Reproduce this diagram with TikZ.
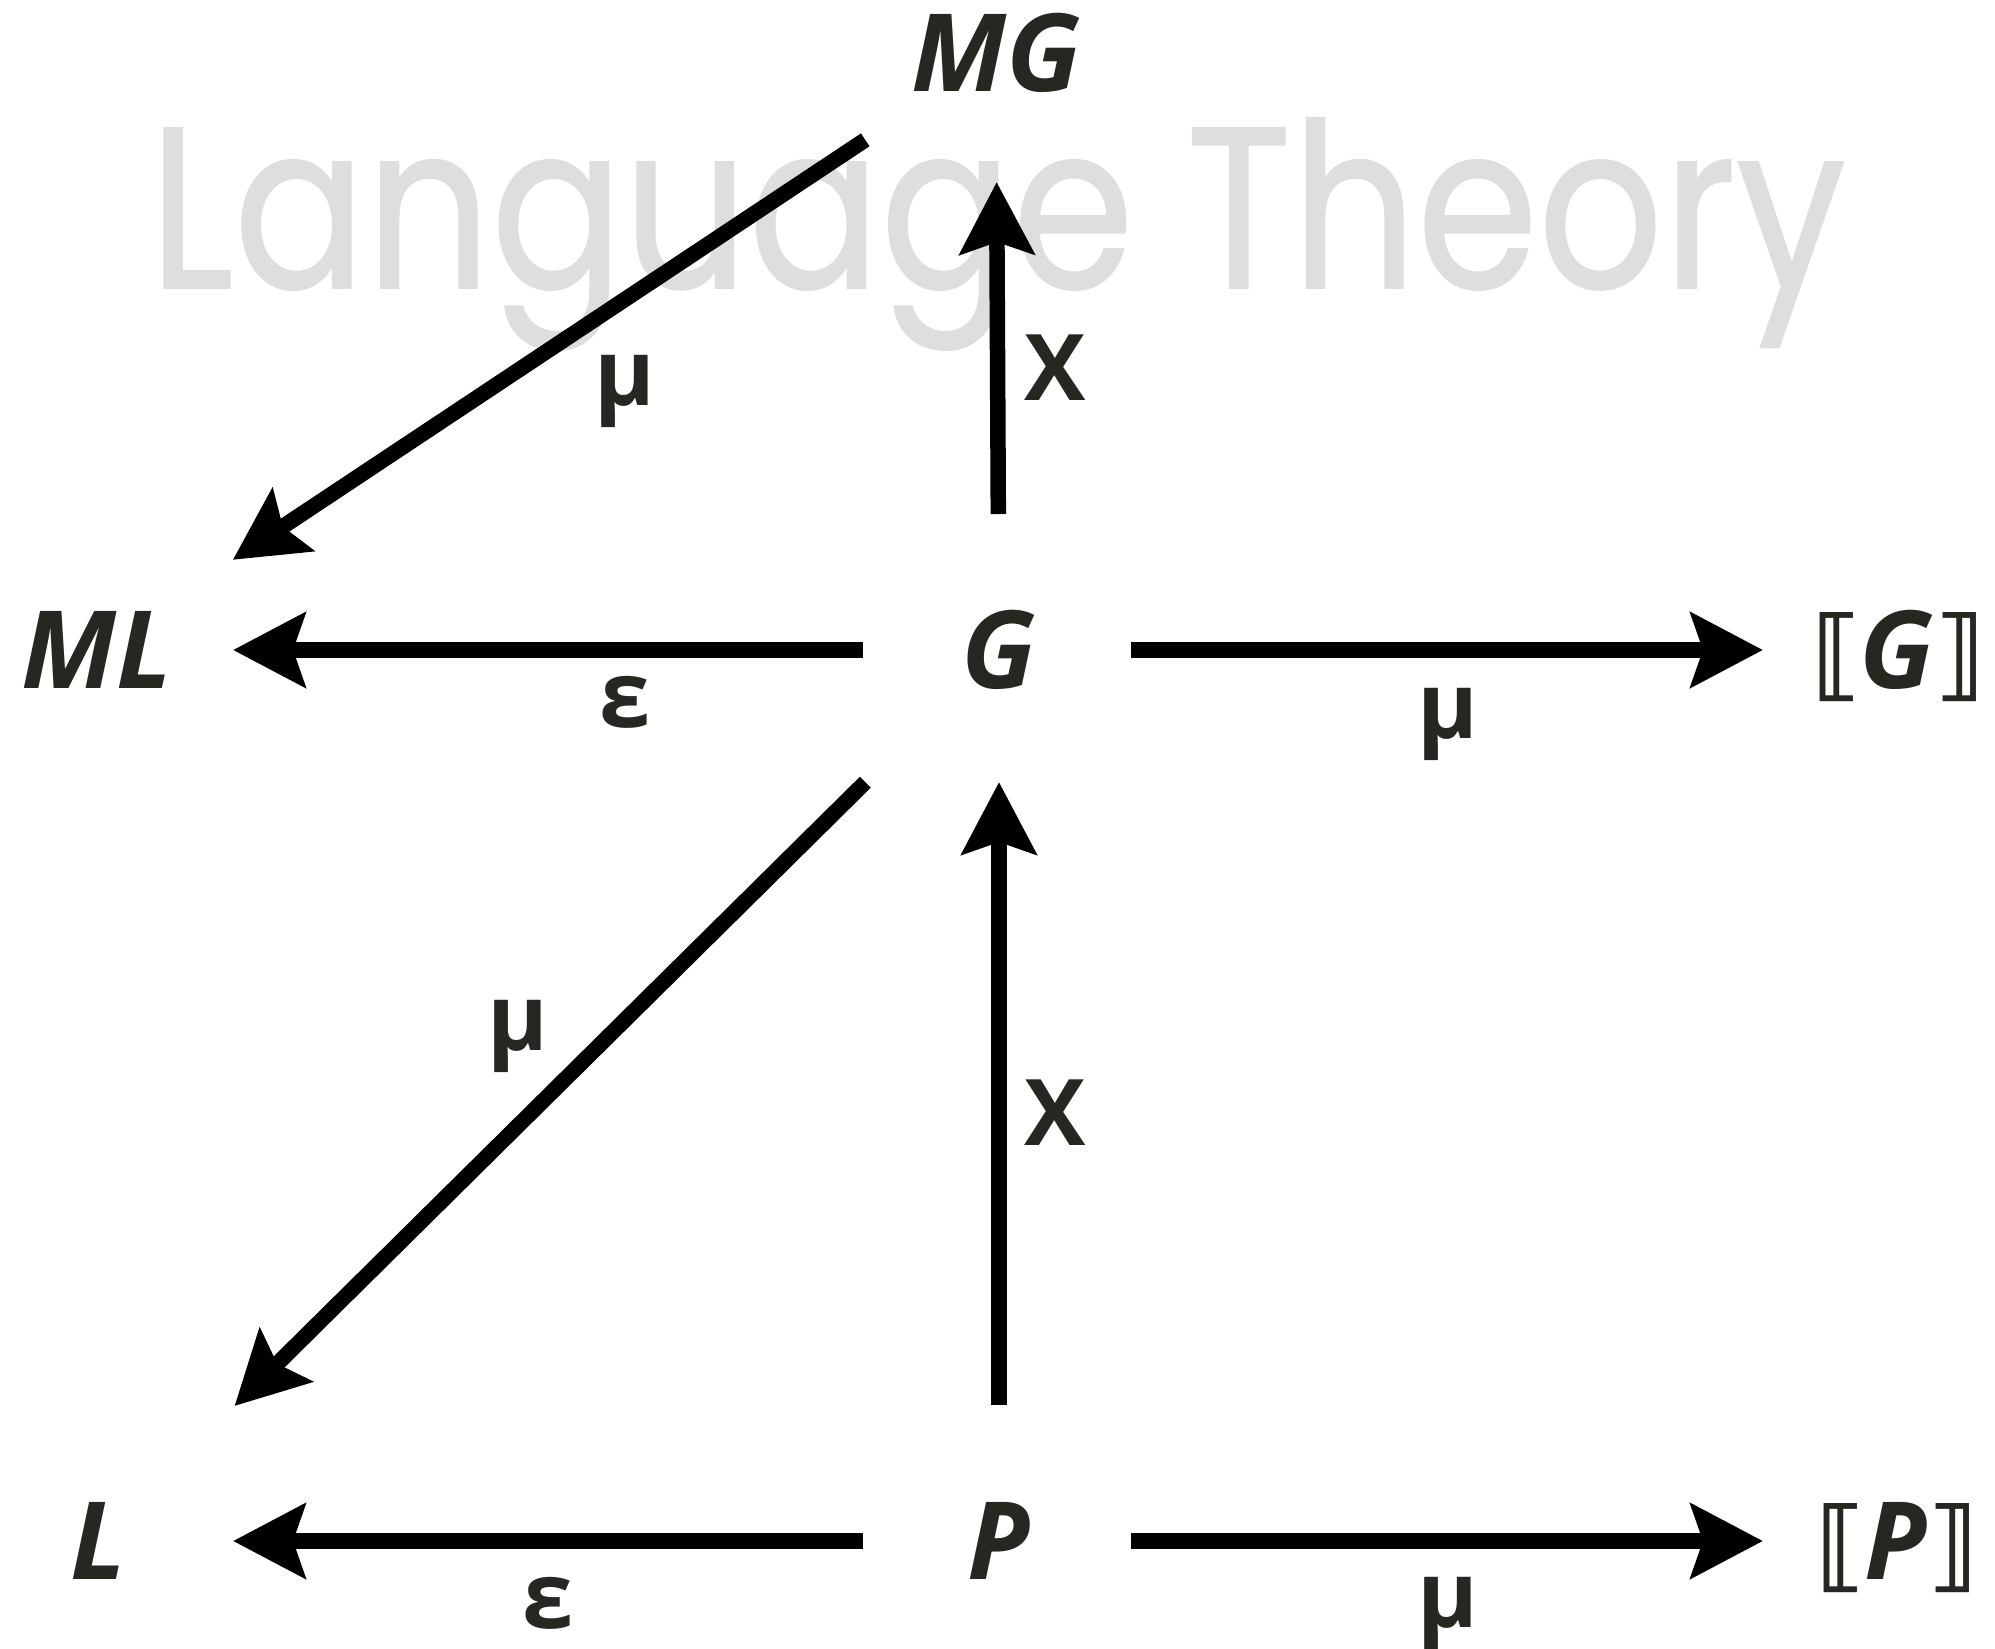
\documentclass[tikz,border=0pt]{standalone}
\usepackage{fontspec}
\usetikzlibrary{arrows.meta}
\newfontfamily\labfont{Open Sans}
\newfontfamily\wmfont{Poppins}[FakeBold=0.8]
\newfontfamily\brfont{DejaVu Sans}
\definecolor{ink}{HTML}{272722}
\definecolor{wm}{HTML}{DDDEE0}
\tikzset{
  obj/.style={inner sep=0pt, text=ink, font=\labfont\fontsize{108}{110}\selectfont\bfseries\itshape, text height=77pt, text depth=0pt},
  lbl/.style={inner sep=0pt, anchor=base, text=ink, font=\labfont\fontsize{92}{94}\selectfont\bfseries},
  arr/.style={line width=15.5pt, black, -{Stealth[length=72pt,width=74pt,inset=12pt]}},
}
\newcommand{\lbr}{{\brfont\fontsize{100}{100}\selectfont\upshape\bfseries ⟦}}
\newcommand{\rbr}{{\brfont\fontsize{100}{100}\selectfont\upshape\bfseries ⟧}}
\begin{document}
\begin{tikzpicture}[x=1pt,y=-1pt]
\useasboundingbox (0,0) rectangle (1995,1649);
% watermark
\node[anchor=base west, inner sep=0pt, text=wm, font=\wmfont\fontsize{230}{230}\selectfont] (wmk) at (149,288) {\scalebox{0.85}[1]{Language Theory}};
% objects
\node[obj] (MG) at (996,53) {MG};
\node[obj] (ML) at (97,650) {ML};
\node[obj] (G) at (999,650) {G};
\node[obj] (SG) at (1897,650) {\lbr G\rbr};
\node[obj] (L) at (98,1541) {L};
\node[obj] (P) at (999,1541) {P};
\node[obj] (SP) at (1896,1541) {\lbr P\rbr};
% arrows
\draw[arr, shorten <=157pt, shorten >=163pt] (MG.center) -- (ML.center);
\draw[arr, shorten <=136pt, shorten >=129pt] (G.center) -- (MG.center);
\draw[arr, shorten <=136pt, shorten >=136pt] (G.center) -- (ML.center);
\draw[arr, shorten <=132pt, shorten >=134pt] (G.center) -- (SG.center);
\draw[arr, shorten <=188pt, shorten >=192pt] (G.center) -- (L.center);
\draw[arr, shorten <=136pt, shorten >=132pt] (P.center) -- (G.center);
\draw[arr, shorten <=136pt, shorten >=135pt] (P.center) -- (L.center);
\draw[arr, shorten <=132pt, shorten >=133pt] (P.center) -- (SP.center);
% labels
\node[lbl] (l1) at (625,405) {μ};
\node[lbl] (l2) at (1055,400) {X};
\node[lbl] (l3) at (625,727) {ε};
\node[lbl] (l4) at (1448,738) {μ};
\node[lbl] (l5) at (518,1050) {μ};
\node[lbl] (l6) at (1055,1145) {X};
\node[lbl] (l7) at (548,1628) {ε};
\node[lbl] (l8) at (1448,1627) {μ};
\end{tikzpicture}
\end{document}
